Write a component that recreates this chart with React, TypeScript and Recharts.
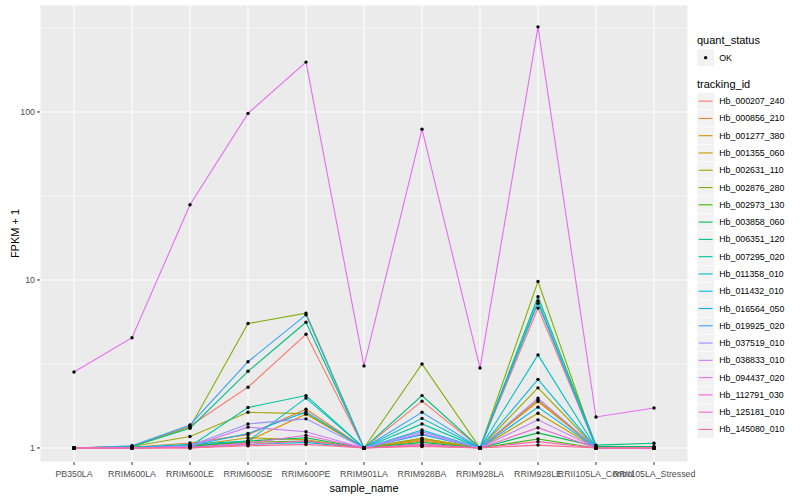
import React from 'react';
import { LineChart, Line, XAxis, YAxis, CartesianGrid, Label } from 'recharts';

const FONT = '"Liberation Sans", Arial, Helvetica, sans-serif';

const categories = [
  'PB350LA', 'RRIM600LA', 'RRIM600LE', 'RRIM600SE', 'RRIM600PE', 'RRIM901LA',
  'RRIM928BA', 'RRIM928LA', 'RRIM928LE', 'RRII105LA_Control', 'RRII105LA_Stressed',
];

const trackingIds = [
  'Hb_000207_240', 'Hb_000856_210', 'Hb_001277_380', 'Hb_001355_060', 'Hb_002631_110',
  'Hb_002876_280', 'Hb_002973_130', 'Hb_003858_060', 'Hb_006351_120', 'Hb_007295_020',
  'Hb_011358_010', 'Hb_011432_010', 'Hb_016564_050', 'Hb_019925_020', 'Hb_037519_010',
  'Hb_038833_010', 'Hb_094437_020', 'Hb_112791_030', 'Hb_125181_010', 'Hb_145080_010',
];

const seriesColors = [
  '#F8766D', '#EA8331', '#D89000', '#C09B00', '#A3A500', '#7CAE00', '#39B600', '#00BB4E',
  '#00BF7D', '#00C1A3', '#00BFC4', '#00BAE0', '#00B0F6', '#35A2FF', '#9590FF', '#C77CFF',
  '#E76BF3', '#FA62DB', '#FF62BC', '#FF6C91',
];

// FPKM + 1 per sample (order of categories)
const v000207_240 = [1, 1.02, 1.35, 2.3, 4.75, 1, 1.9, 1, 6.8, 1.01, 1];
const v000856_210 = [1, 1.01, 1.07, 1.2, 1.7, 1, 1.12, 1, 1.93, 1, 1];
const v001277_380 = [1, 1, 1.02, 1.1, 1.59, 1, 1.1, 1, 1.89, 1, 1];
const v001355_060 = [1, 1, 1.03, 1.15, 1.12, 1, 1.14, 1, 1.61, 1, 1];
const v002631_110 = [1, 1.02, 1.17, 1.63, 1.6, 1, 1.14, 1, 2.28, 1, 1];
const v002876_280 = [1, 1.02, 1.33, 5.5, 6.35, 1, 3.16, 1, 9.8, 1, 1];
const v002973_130 = [1, 1, 1.03, 1.08, 1.1, 1, 1.05, 1, 1.13, 1, 1];
const v003858_060 = [1, 1, 1.02, 1.1, 1.15, 1, 1.08, 1, 1.23, 1.02, 1.02];
const v006351_120 = [1, 1.02, 1.31, 2.86, 5.6, 1, 2.05, 1, 7.95, 1.04, 1.066];
const v007295_020 = [1, 1, 1.02, 1.74, 2.05, 1, 1.39, 1, 7.5, 1.01, 1];
const v011358_010 = [1, 1.01, 1.05, 1.1, 1.98, 1, 1.5, 1, 3.58, 1, 1];
const v011432_010 = [1, 1, 1.01, 1.05, 1.08, 1, 1.28, 1, 2.56, 1, 1];
const v016564_050 = [1, 1.01, 1.03, 1.22, 1.64, 1, 1.2, 1, 1.75, 1, 1];
const v019925_020 = [1, 1.03, 1.37, 3.26, 6.2, 1, 1.63, 1, 7.27, 1.01, 1];
const v037519_010 = [1, 1, 1.03, 1.39, 1.49, 1, 1.25, 1, 1.98, 1, 1];
const v038833_010 = [1, 1, 1.02, 1.33, 1.25, 1, 1.22, 1, 1.47, 1, 1];
const v094437_020 = [2.83, 4.53, 28, 98, 198, 3.08, 79, 2.99, 321, 1.53, 1.73];
const v112791_030 = [1, 1, 1.01, 1.07, 1.19, 1, 1.05, 1, 1.32, 1, 1];
const v125181_010 = [1, 1, 1, 1.05, 1.1, 1, 1.03, 1, 1.09, 1, 1];
const v145080_010 = [1, 1, 1, 1.03, 1.05, 1, 1.02, 1, 1.04, 1, 1];

const seriesValues = [
  v000207_240, v000856_210, v001277_380, v001355_060, v002631_110, v002876_280,
  v002973_130, v003858_060, v006351_120, v007295_020, v011358_010, v011432_010,
  v016564_050, v019925_020, v037519_010, v038833_010, v094437_020, v112791_030,
  v125181_010, v145080_010,
];

const yTicks = [1, 10, 100];
const yMinorTicks = [3.1623, 31.623, 316.23];
const yDomain = [0.825, 433];

const data = categories.map((c, i) => {
  const row: Record<string, any> = { sample_name: c };
  trackingIds.forEach((id, j) => {
    row[id] = seriesValues[j][i];
  });
  return row;
});

const XTitle = (props: any) => {
  const vb = props.viewBox || { x: 40, y: 462, width: 648, height: 38 };
  return (
    <text x={vb.x + vb.width / 2} y={492} textAnchor="middle" fontSize={11} fill="#000" fontFamily={FONT}>
      sample_name
    </text>
  );
};

const YTitle = (props: any) => {
  const vb = props.viewBox || { x: 0, y: 5, width: 40, height: 457 };
  const cx = vb.x + 19;
  const cy = vb.y + vb.height / 2;
  return (
    <text x={cx} y={cy} textAnchor="middle" fontSize={11} fill="#000" fontFamily={FONT}
      transform={`rotate(-90 ${cx} ${cy})`}>
      FPKM + 1
    </text>
  );
};

const LegendOverlay = () => {
  const keySize = 17.28;
  const x0 = 697;
  const firstKeyTop = 92.5;
  return (
    <svg width={800} height={500} style={{ position: 'absolute', left: 0, top: 0, pointerEvents: 'none' }}>
      <text x={x0} y={44} fontSize={11} fill="#000" fontFamily={FONT}>quant_status</text>
      <rect x={x0} y={49} width={keySize} height={keySize} fill="#F2F2F2" stroke="#FFFFFF" strokeWidth={0.5} />
      <circle cx={x0 + keySize / 2} cy={49 + keySize / 2} r={1.7} fill="#000" />
      <text x={x0 + keySize + 5} y={49 + keySize / 2} dominantBaseline="central" fontSize={8.8} fill="#000" fontFamily={FONT}>OK</text>
      <text x={x0} y={88} fontSize={11} fill="#000" fontFamily={FONT}>tracking_id</text>
      {trackingIds.map((id, i) => {
        const top = firstKeyTop + i * keySize;
        const cy = top + keySize / 2;
        return (
          <g key={id}>
            <rect x={x0} y={top} width={keySize} height={keySize} fill="#F2F2F2" stroke="#FFFFFF" strokeWidth={0.5} />
            <line x1={x0 + 1.7} x2={x0 + keySize - 1.7} y1={cy} y2={cy} stroke={seriesColors[i]} strokeWidth={1.1} />
            <text x={x0 + keySize + 5} y={cy} dominantBaseline="central" fontSize={8.8} fill="#000" fontFamily={FONT}>{id}</text>
          </g>
        );
      })}
    </svg>
  );
};

export default function App() {
  return (
    <div style={{ position: 'absolute', left: 0, top: 0, width: 800, height: 500, background: '#FFFFFF', fontFamily: FONT }}>
      <LineChart width={800} height={500} data={data} margin={{ top: 5, right: 112, bottom: 0, left: 0 }}>
        <CartesianGrid fill="#EBEBEB" stroke="#FFFFFF" strokeWidth={0.55} vertical={false} horizontalValues={yMinorTicks} />
        <CartesianGrid stroke="#FFFFFF" strokeWidth={1.1} />
        <XAxis
          dataKey="sample_name"
          type="category"
          scale="point"
          padding={{ left: 34, right: 34 }}
          interval={0}
          height={38}
          axisLine={false}
          tickLine={{ stroke: '#333333' }}
          tickSize={3}
          tickMargin={6}
          tick={{ fill: '#4D4D4D', fontSize: 8.8, fontFamily: FONT }}
        >
          <Label content={<XTitle />} />
        </XAxis>
        <YAxis
          type="number"
          scale="log"
          domain={yDomain}
          allowDataOverflow
          ticks={yTicks}
          width={40}
          axisLine={false}
          tickLine={{ stroke: '#333333' }}
          tickSize={3}
          tickMargin={2}
          tick={{ fill: '#4D4D4D', fontSize: 8.8, fontFamily: FONT }}
        >
          <Label content={<YTitle />} />
        </YAxis>
        {trackingIds.map((id, i) => (
          <Line
            key={'l' + id}
            type="linear"
            dataKey={id}
            stroke={seriesColors[i]}
            strokeWidth={1.1}
            dot={false}
            activeDot={false}
            isAnimationActive={false}
          />
        ))}
        {trackingIds.map((id) => (
          <Line
            key={'p' + id}
            type="linear"
            dataKey={id}
            stroke="none"
            strokeWidth={0}
            dot={{ r: 1.7, fill: '#000000', stroke: 'none' }}
            activeDot={false}
            isAnimationActive={false}
            legendType="none"
          />
        ))}
      </LineChart>
      <LegendOverlay />
    </div>
  );
}
